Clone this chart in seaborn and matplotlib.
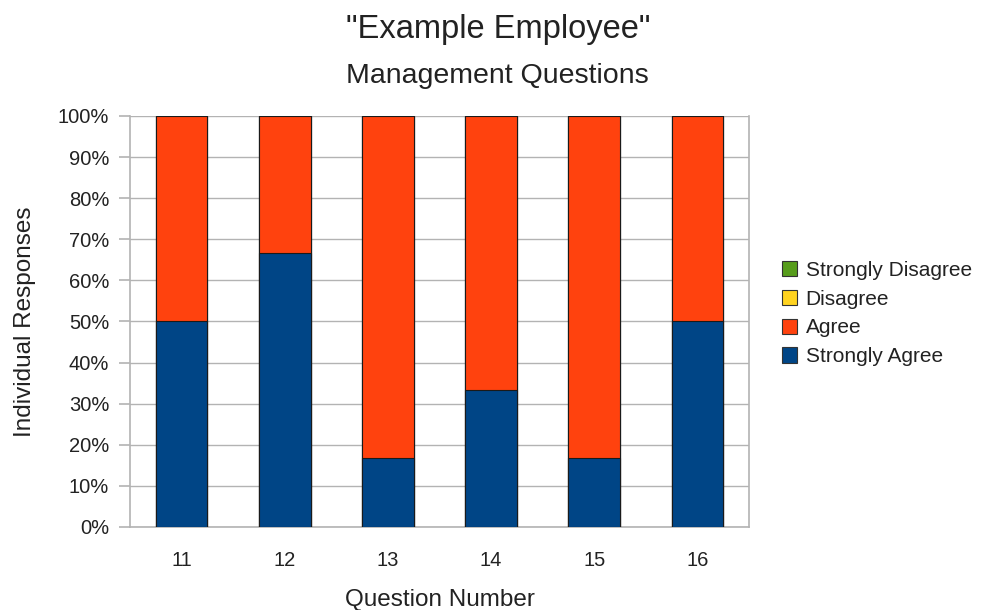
import matplotlib
matplotlib.use("Agg")
import matplotlib.pyplot as plt
from matplotlib.patches import Patch
from matplotlib.ticker import FixedLocator, PercentFormatter
import seaborn as sns
import numpy as np
import pandas as pd

questions = ["11", "12", "13", "14", "15", "16"]
strongly_agree = [50.0, 66.7, 16.7, 33.3, 16.7, 50.0]
agree = [50.0, 33.3, 83.3, 66.7, 83.3, 50.0]
disagree = [0, 0, 0, 0, 0, 0]
strongly_disagree = [0, 0, 0, 0, 0, 0]

series = ["Strongly Agree", "Agree", "Disagree", "Strongly Disagree"]
colors = {"Strongly Agree": "#004586", "Agree": "#ff420e",
          "Disagree": "#ffd320", "Strongly Disagree": "#579d1c"}

df = pd.DataFrame({"question": questions, "Strongly Agree": strongly_agree, "Agree": agree,
                   "Disagree": disagree, "Strongly Disagree": strongly_disagree})
# cumulative tops so the stack can be drawn back to front
cum = df[series].cumsum(axis=1)

sns.set_style("white")
plt.rcParams["font.family"] = ["Liberation Sans", "DejaVu Sans"]
grey = "#b3b3b3"
txt = "#222222"

fig = plt.figure(figsize=(9.82, 6.1), dpi=100)
ax = fig.add_axes([0.1324, 0.1361, 0.6303, 0.6738])

for s in reversed(series):
    sns.barplot(x=df["question"], y=cum[s], color=colors[s], width=0.5, saturation=1,
                edgecolor="#1a1a1a", linewidth=0.8, ax=ax, zorder=3)

ax.set_ylim(0, 100)
ax.set_xlim(-0.5, len(questions) - 0.5)
ax.yaxis.set_major_locator(FixedLocator(np.arange(0, 101, 10)))
ax.yaxis.set_major_formatter(PercentFormatter(decimals=0))
ax.grid(axis="y", color=grey, linewidth=1, zorder=0)
ax.set_axisbelow(True)
for sp in ax.spines.values():
    sp.set_color(grey)
    sp.set_linewidth(1.2)
ax.spines["top"].set_visible(False)

ax.xaxis.set_minor_locator(FixedLocator(np.arange(-0.5, len(questions), 1)))
ax.tick_params(axis="x", which="major", length=0, pad=17.5, labelsize=14.5, labelcolor=txt)
ax.tick_params(axis="x", which="minor", length=8, width=1.2, color=grey, direction="out")
ax.tick_params(axis="y", which="major", length=8, width=1.2, color=grey, direction="out",
               left=True, pad=7, labelsize=14.5, labelcolor=txt)

ax.set_xlabel("Question Number", fontsize=17.5, labelpad=13.5, color=txt)
ax.set_ylabel("Individual Responses", fontsize=17.5, labelpad=16, color=txt)

fig.text(0.507, 0.951, "\"Example Employee\"", ha="center", va="center", fontsize=23.5, color=txt)
fig.text(0.507, 0.876, "Management Questions", ha="center", va="center", fontsize=20.5, color=txt)

handles = [Patch(facecolor=colors[s], edgecolor="#333333", linewidth=0.8, label=s) for s in reversed(series)]
fig.legend(handles=handles, loc="center left", bbox_to_anchor=(0.777, 0.486), frameon=False,
           fontsize=15, handlelength=0.75, handleheight=0.75, handletextpad=0.4, labelspacing=0.47,
           labelcolor=txt)

fig.savefig("out.png", dpi=100)
